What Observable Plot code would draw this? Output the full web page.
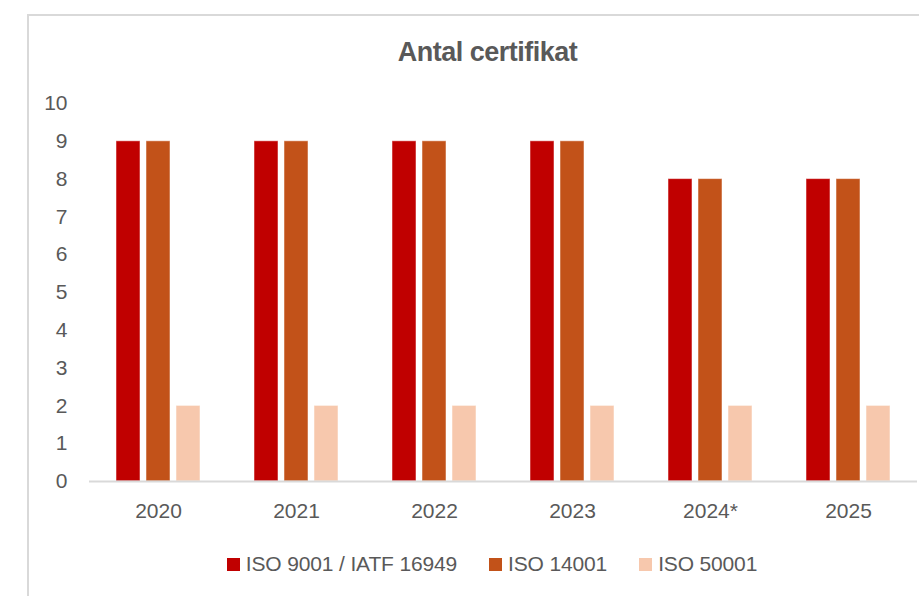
<!DOCTYPE html>
<html>
<head>
<meta charset="utf-8">
<script src="https://cdn.jsdelivr.net/npm/d3@7"></script>
<script src="https://cdn.jsdelivr.net/npm/@observablehq/plot@0.6"></script>
<style>
  html, body { margin: 0; padding: 0; background: #fff; }
  body { width: 919px; height: 596px; overflow: hidden; position: relative;
         font-family: 'Liberation Sans', Arial, sans-serif; color: #595959; }
  #frame { position: absolute; left: 27px; top: 14px; width: 960px; height: 700px;
           border: 2px solid #d9d9d9; box-sizing: border-box; }
  #title { position: relative; height: 80px; box-sizing: border-box; padding-left: 56px;
           text-align: center; font-weight: bold; font-size: 27px; letter-spacing: -0.5px;
           line-height: 27px; padding-top: 39px; color: #595959; }
  #chart { position: relative; height: 450px; }
  #chart svg { display: block; }
  #legend { position: relative; display: flex; justify-content: center; padding-left: 65px;
            box-sizing: border-box; width: 919px; gap: 32px; font-size: 21px; letter-spacing: -0.15px;
            margin-top: 22px; line-height: 24px; }
  .item { display: flex; align-items: center; gap: 6px; }
  .sw { width: 13px; height: 13px; display: inline-block; }
</style>
</head>
<body>
<div id="frame"></div>
<div id="title">Antal certifikat</div>
<div id="chart"></div>
<div id="legend"></div>
<script>
const years = ["2020", "2021", "2022", "2023", "2024*", "2025"];
const seriesNames = ["ISO 9001 / IATF 16949", "ISO 14001", "ISO 50001"];
const iso9001 = [9, 9, 9, 9, 8, 8];
const iso14001 = [9, 9, 9, 9, 8, 8];
const iso50001 = [2, 2, 2, 2, 2, 2];
const yTicks = [0, 1, 2, 3, 4, 5, 6, 7, 8, 9, 10];
const colors = ["#c00000", "#c25219", "#f7c8ad"];

const seriesValues = [iso9001, iso14001, iso50001];
const data = years.flatMap((yr, i) =>
  seriesNames.map((s, j) => ({year: yr, series: s, value: seriesValues[j][i]})));

const chart = Plot.plot({
  width: 919,
  height: 450,
  marginLeft: 87,
  marginRight: 1,
  marginTop: 23,
  marginBottom: 49,
  style: {fontFamily: "'Liberation Sans', Arial, sans-serif", fontSize: "21px", color: "#595959", background: "transparent", overflow: "visible"},
  fx: {domain: years, padding: 0, label: null, tickSize: 0, tickPadding: 22, axis: "bottom"},
  x: {domain: seriesNames, axis: null, padding: 0.2, insetLeft: 20, insetRight: 20},
  y: {domain: [0, 10], ticks: yTicks, tickSize: 0, tickPadding: 22, label: null},
  color: {domain: seriesNames, range: colors},
  marks: [
    Plot.barY(data, {fx: "year", x: "series", y: "value", fill: "series", stroke: "#ffffff", strokeOpacity: 0.5, strokeWidth: 1}),
    Plot.ruleY([0], {stroke: "#d9d9d9", strokeWidth: 2})
  ]
});
document.getElementById("chart").appendChild(chart);

const legend = document.getElementById("legend");
seriesNames.forEach((s, j) => {
  const item = document.createElement("div");
  item.className = "item";
  const sw = document.createElement("span");
  sw.className = "sw";
  sw.style.background = colors[j];
  const t = document.createElement("span");
  t.textContent = s;
  item.appendChild(sw);
  item.appendChild(t);
  legend.appendChild(item);
});
</script>
</body>
</html>
